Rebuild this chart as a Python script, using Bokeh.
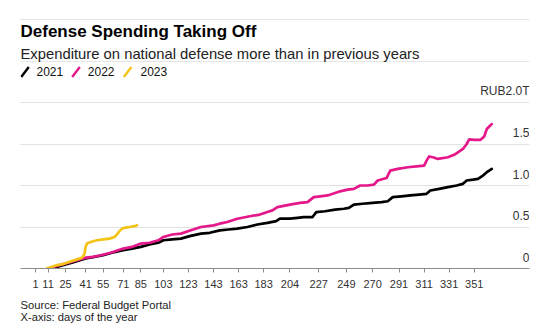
from bokeh.plotting import figure
from bokeh.models import Range1d, FixedTicker, Grid, Label, Arrow, ColumnDataSource, Title
from bokeh.core.properties import value
from bokeh.embed import file_html
from bokeh.resources import INLINE

# ---------------- data ----------------
days_2021 = [11, 18, 25, 32, 41, 48, 55, 62, 71, 78, 85, 92, 99, 103, 110, 117, 124, 133, 140, 148,
             155, 162, 170, 178, 186, 193, 196, 204, 210, 215, 222, 225, 232, 240, 247, 251, 255, 262,
             270, 277, 282, 286, 293, 300, 307, 313, 316, 323, 330, 337, 342, 345, 350, 354, 358, 361,
             363, 365]
spend_2021 = [0.00, 0.02, 0.05, 0.08, 0.12, 0.14, 0.16, 0.19, 0.22, 0.24, 0.26, 0.29, 0.31, 0.34, 0.35,
              0.36, 0.39, 0.42, 0.43, 0.46, 0.47, 0.48, 0.50, 0.53, 0.55, 0.57, 0.60, 0.60, 0.61, 0.62,
              0.62, 0.68, 0.69, 0.71, 0.72, 0.73, 0.77, 0.78, 0.79, 0.80, 0.81, 0.86, 0.87, 0.88, 0.89,
              0.90, 0.94, 0.96, 0.98, 1.00, 1.02, 1.06, 1.07, 1.08, 1.12, 1.16, 1.18, 1.20]

days_2022 = [11, 18, 25, 32, 41, 47, 53, 61, 71, 78, 85, 92, 99, 103, 110, 117, 125, 133, 143, 148,
             154, 162, 172, 180, 186, 190, 194, 204, 212, 218, 223, 228, 234, 240, 244, 250, 255, 260,
             266, 271, 274, 281, 284, 290, 298, 305, 311, 313, 315, 318, 322, 330, 335, 338, 342, 345,
             347, 351, 356, 359, 361, 363, 365]
spend_2022 = [0.00, 0.03, 0.06, 0.09, 0.13, 0.14, 0.16, 0.19, 0.24, 0.26, 0.30, 0.31, 0.34, 0.38, 0.41,
              0.42, 0.46, 0.50, 0.52, 0.54, 0.56, 0.60, 0.63, 0.65, 0.68, 0.70, 0.74, 0.77, 0.79, 0.80,
              0.86, 0.87, 0.88, 0.91, 0.93, 0.95, 0.96, 1.00, 1.00, 1.01, 1.06, 1.09, 1.18, 1.20, 1.22,
              1.23, 1.24, 1.30, 1.35, 1.34, 1.32, 1.34, 1.37, 1.40, 1.44, 1.50, 1.555, 1.55, 1.55, 1.59,
              1.68, 1.71, 1.74]

days_2023 = [10, 14, 18, 22, 26, 30, 34, 38, 40, 41, 42, 45, 50, 55, 60, 64, 66, 68, 70, 72, 76, 80, 82]
spend_2023 = [0.00, 0.02, 0.04, 0.05, 0.07, 0.09, 0.11, 0.13, 0.17, 0.26, 0.30, 0.32, 0.34, 0.35, 0.36,
              0.38, 0.41, 0.45, 0.48, 0.49, 0.50, 0.51, 0.52]

x_ticks = [1, 11, 25, 41, 55, 71, 85, 103, 123, 143, 163, 183, 204, 227, 249, 270, 291, 311, 331, 351]
y_ticks = [0, 0.5, 1.0, 1.5, 2.0]
y_tick_labels = ["0", "0.5", "1.0", "1.5", "RUB2.0T"]

series_names = ["2021", "2022", "2023"]
series_colors = ["#000000", "#e4188a", "#f3c316"]

TITLE = "Defense Spending Taking Off"
SUBTITLE = "Expenditure on national defense more than in previous years"
NOTES = ["Source: Federal Budget Portal", "X-axis: days of the year"]

# ---------------- layout ----------------
X_START, X_END = -10.97, 395.1
Y_END = 3.229
FONT = "Liberation Sans"

p = figure(width=557, height=334,
           x_range=Range1d(X_START, X_END), y_range=Range1d(0, Y_END),
           output_backend="svg", toolbar_location=None, y_axis_location=None,
           min_border_left=20, min_border_right=28, min_border_top=0, min_border_bottom=66,
           outline_line_color=None, background_fill_color="white", border_fill_color="white")

p.xgrid.visible = False
grid = Grid(dimension=1, ticker=FixedTicker(ticks=y_ticks), grid_line_color="#e2e2e2", grid_line_width=1)
p.add_layout(grid)

ax = p.xaxis[0]
ax.ticker = FixedTicker(ticks=x_ticks)
ax.axis_line_color = "#8c8c8c"
ax.major_tick_line_color = "#8c8c8c"
ax.major_tick_in = 0
ax.major_tick_out = 4
ax.minor_tick_line_color = None
ax.major_label_text_font = FONT
ax.major_label_text_font_size = "11px"
ax.major_label_text_color = "#333333"
ax.major_label_standoff = 7

# lines
for d, v, c in [(days_2021, spend_2021, series_colors[0]),
                (days_2022, spend_2022, series_colors[1]),
                (days_2023, spend_2023, series_colors[2])]:
    p.line(d, v, line_color=c, line_width=2.7, line_join="round", line_cap="round")

# y tick labels, right aligned above gridlines
ysrc = ColumnDataSource(dict(x=[X_END] * len(y_ticks), y=y_ticks, label=y_tick_labels))
p.text(x="x", y="y", text="label", source=ysrc, text_align="right", text_baseline="middle",
       y_offset=-11.5, text_font=value(FONT), text_font_size="12px", text_color="#333333")

# title & subtitle (screen units relative to frame; frame spans canvas y 0..268)
p.add_layout(Label(x=0, y=237.5, x_units="screen", y_units="screen", text=TITLE,
                   text_font=FONT, text_font_style="bold", text_font_size="17px",
                   text_color="#000000", text_baseline="middle"))
p.add_layout(Label(x=0, y=214.9, x_units="screen", y_units="screen", text=SUBTITLE,
                   text_font=FONT, text_font_size="14.8px", text_color="#222222",
                   text_baseline="middle"))

# legend
leg_text_x = [16, 67.3, 120]
leg_slash_x = [0.7, 51.7, 103.3]
for name, c, tx, sx in zip(series_names, series_colors, leg_text_x, leg_slash_x):
    p.add_layout(Arrow(x_start=sx, y_start=191.5, x_end=sx + 7.6, y_end=201.5,
                       start_units="screen", end_units="screen", end=None, start=None,
                       line_color=c, line_width=2.4))
    p.add_layout(Label(x=tx, y=197.5, x_units="screen", y_units="screen", text=name,
                       text_font=FONT, text_font_size="12px", text_color="#111111",
                       text_baseline="middle"))

# footnotes
p.add_layout(Title(text="\n".join(NOTES), align="left", offset=0, standoff=13,
                   text_font=FONT, text_font_size="11.2px", text_font_style="normal",
                   text_line_height=1.0, text_color="#222222"), "below")

open("out.html", "w").write(file_html(p, INLINE))
